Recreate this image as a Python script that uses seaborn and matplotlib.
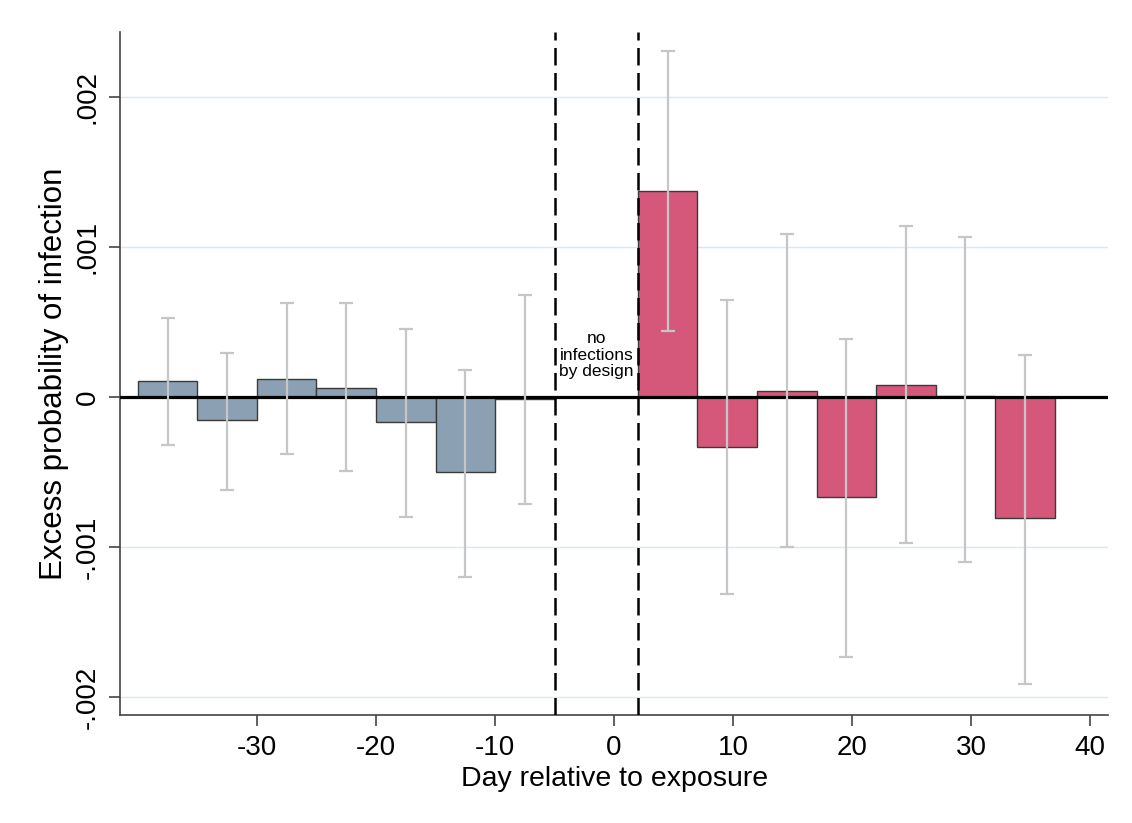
import numpy as np
import pandas as pd
import matplotlib
matplotlib.use("Agg")
import matplotlib.pyplot as plt
import seaborn as sns

# ---- data ----
pre_days = [-37.5, -32.5, -27.5, -22.5, -17.5, -12.5, -7.5]
pre_vals = [0.000105, -0.000155, 0.00012, 0.00006, -0.000165, -0.0005, -0.00001]
pre_lo = [-0.00032, -0.00062, -0.00038, -0.00049, -0.0008, -0.0012, -0.000713]
pre_hi = [0.000527, 0.000293, 0.000627, 0.000627, 0.000453, 0.00018, 0.00068]

post_days = [4.5, 9.5, 14.5, 19.5, 24.5, 29.5, 34.5]
post_vals = [0.001373, -0.000333, 0.00004, -0.000667, 0.00008, 0.000005, -0.000807]
post_lo = [0.00044, -0.00131, -0.001, -0.00173, -0.00097, -0.0011, -0.00191]
post_hi = [0.00231, 0.00065, 0.00109, 0.00039, 0.00114, 0.00107, 0.00028]

design_gap = [-5, 2]
x_ticks = [-30, -20, -10, 0, 10, 20, 30, 40]
y_ticks = [-0.002, -0.001, 0, 0.001, 0.002]
y_ticklabels = ["-.002", "-.001", "0", ".001", ".002"]
x_label = "Day relative to exposure"
y_label = "Excess probability of infection"
note = "no\ninfections\nby design"

blue = "#8ba0b3"
red = "#d5587a"

sns.set_style("white")
plt.rcParams["font.family"] = ["Liberation Sans", "DejaVu Sans"]
plt.rcParams["text.color"] = "black"
plt.rcParams["axes.labelcolor"] = "black"
plt.rcParams["xtick.color"] = "black"
plt.rcParams["ytick.color"] = "black"

df = pd.DataFrame({
    "day": pre_days + post_days,
    "value": pre_vals + post_vals,
    "group": ["pre"] * len(pre_days) + ["post"] * len(post_days),
})
lo = np.array(pre_lo + post_lo)
hi = np.array(pre_hi + post_hi)

fig = plt.figure(figsize=(11.32, 8.23), dpi=100)
ax = fig.add_axes([0.106, 0.131, 0.873, 0.830])

for t in y_ticks:
    ax.axhline(t, color="#d8eaf0", lw=1.0, zorder=0)

sns.barplot(data=df, x="day", y="value", hue="group",
            palette={"pre": blue, "post": red}, native_scale=True,
            dodge=False, width=1.0, errorbar=None, edgecolor="#3a3a3a",
            linewidth=1.0, saturation=1, legend=False, ax=ax, zorder=2)

ax.axhline(0, color="black", lw=2.3, zorder=3)
for xv in design_gap:
    ax.axvline(xv, color="black", lw=1.8, linestyle=(0, (7, 3)), zorder=3)

vals = df["value"].to_numpy()
ax.errorbar(df["day"], vals, yerr=[vals - lo, hi - vals], fmt="none",
            ecolor="#c6c6c6", elinewidth=1.6, capsize=5, capthick=1.6, zorder=4)

ax.text(np.mean(design_gap), 0.00028, note, ha="center", va="center",
        fontsize=12.5, linespacing=1.1, zorder=5)

ax.set_xlim(-41.5, 41.5)
ax.set_ylim(-0.00212, 0.002433)
ax.set_xticks(x_ticks)
ax.set_xticklabels([str(t) for t in x_ticks], fontsize=20)
ax.set_yticks(y_ticks)
ax.set_yticklabels(y_ticklabels, fontsize=20, rotation=90, va="center")
ax.tick_params(axis="both", direction="out", length=8, width=1.2, color="#444444", pad=6)
ax.tick_params(axis="x", bottom=True)
ax.tick_params(axis="y", left=True)
ax.set_xlabel(x_label, fontsize=20.5, labelpad=4)
ax.set_ylabel(y_label, fontsize=22.5, labelpad=4)

for s in ["top", "right"]:
    ax.spines[s].set_visible(False)
for s in ["left", "bottom"]:
    ax.spines[s].set_color("#444444")
    ax.spines[s].set_linewidth(1.2)

fig.savefig("out.png", dpi=100, facecolor="white")
